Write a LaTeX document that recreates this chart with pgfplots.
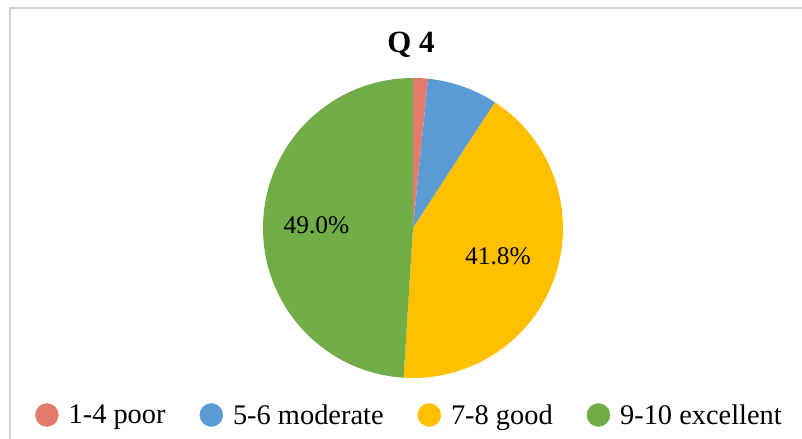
\documentclass[border=0pt]{standalone}
\usepackage{pgfplots}
\usepackage{pgfplotstable}
\usepackage{fontspec}
\setmainfont{Liberation Serif}
\pgfplotsset{compat=1.18}

\definecolor{poorc}{HTML}{E27B6C}
\definecolor{modc}{HTML}{5B9BD5}
\definecolor{goodc}{HTML}{FFC000}
\definecolor{excc}{HTML}{70AD47}
\definecolor{framec}{HTML}{D0D0D0}

% shares in percent, clockwise from 12 o'clock
\pgfplotstableread{
share
1.6
7.6
41.8
49.0
}\piedata

\pgfplotstablegetelem{0}{share}\of\piedata \let\sA\pgfplotsretval
\pgfplotstablegetelem{1}{share}\of\piedata \let\sB\pgfplotsretval
\pgfplotstablegetelem{2}{share}\of\piedata \let\sC\pgfplotsretval
\pgfplotstablegetelem{3}{share}\of\piedata \let\sD\pgfplotsretval
\pgfmathsetmacro\aA{90-3.6*\sA}
\pgfmathsetmacro\aB{\aA-3.6*\sB}
\pgfmathsetmacro\aC{\aB-3.6*\sC}
\pgfmathsetmacro\aD{\aC-3.6*\sD}

\begin{document}
\begin{tikzpicture}
\begin{axis}[
  hide axis, scale only axis,
  width=802bp, height=439bp,
  xmin=0, xmax=802, ymin=0, ymax=439,
  clip=false,
  legend columns=4,
  legend style={at={(408.5/802,24/439)}, anchor=center, draw=none, fill=none,
    font=\fontsize{28.5}{32}\selectfont,
    nodes={inner xsep=0bp},
    /tikz/every odd column/.append style={column sep=10bp},
    /tikz/every even column/.append style={column sep=34bp}},
  legend image code/.code={\fill[#1] (11.5bp,0bp) circle (11.5bp);},
]
\coordinate (bl) at (axis cs:0,0);
\coordinate (tr) at (axis cs:802,439);
% frame
\draw[framec, line width=2bp] (axis cs:10,0) -- (axis cs:10,431) -- (axis cs:802,431);

% wedges
\fill[poorc] (axis cs:413,211) -- ++(90:150bp) arc[start angle=90, end angle=\aA, radius=150bp] -- cycle;
\fill[modc] (axis cs:413,211) -- ++(\aA:150bp) arc[start angle=\aA, end angle=\aB, radius=150bp] -- cycle;
\fill[goodc] (axis cs:413,211) -- ++(\aB:150bp) arc[start angle=\aB, end angle=\aC, radius=150bp] -- cycle;
\fill[excc] (axis cs:413,211) -- ++(\aC:150bp) arc[start angle=\aC, end angle=\aD, radius=150bp] -- cycle;

% labels
\node[font=\fontsize{25.5}{30}\selectfont, anchor=base, inner sep=0pt] at (axis cs:316.5,205) {49.0\%};
\node[font=\fontsize{25.5}{30}\selectfont, anchor=base, inner sep=0pt] at (axis cs:498,174) {41.8\%};

% title
\node[font=\fontsize{31}{36}\selectfont\bfseries, anchor=base, inner sep=0pt] at (axis cs:411,386) {Q 4};

\addlegendimage{poorc}\addlegendentry{1-4 poor}
\addlegendimage{modc}\addlegendentry{5-6 moderate}
\addlegendimage{goodc}\addlegendentry{7-8 good}
\addlegendimage{excc}\addlegendentry{9-10 excellent}
\end{axis}
\pgfresetboundingbox
\path (bl) rectangle (tr);
\end{tikzpicture}
\end{document}
